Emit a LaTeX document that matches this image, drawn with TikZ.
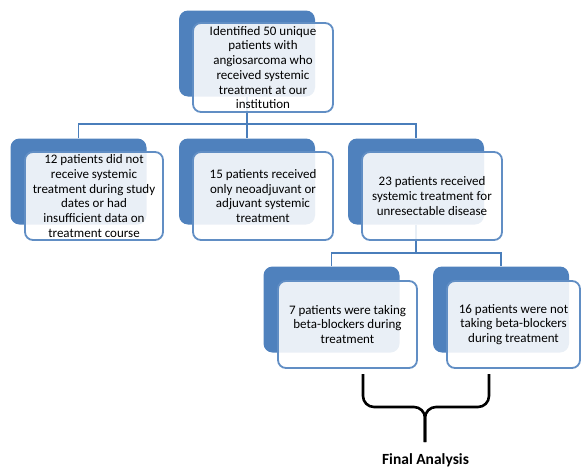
\documentclass[tikz,border=0pt]{standalone}
\usepackage{fontspec}
\setmainfont{Carlito}
\usepackage{xcolor}
\usepackage{tikz}
\usetikzlibrary{positioning, calc}
\definecolor{officeblue}{HTML}{4F81BD}
\definecolor{lineblue}{HTML}{4A7EBB}
\tikzset{
  backbox/.style  = {rectangle, fill=officeblue, rounded corners=9pt,
                     minimum width=136pt, minimum height=86pt, inner sep=0pt},
  frontbox/.style = {rectangle, draw=officeblue!90, line width=1.8pt, fill=white,
                     fill opacity=0.88, text opacity=1, rounded corners=8pt,
                     minimum width=139pt, minimum height=88pt, inner sep=1pt,
                     align=center, font=\fontsize{13}{14.7}\selectfont},
  link/.style     = {draw=lineblue, line width=1.8pt},
  bracket/.style  = {draw=black, line width=2.6pt, rounded corners=11pt},
}

\begin{document}
\begin{tikzpicture}[x=1pt, y=-1pt]
    \useasboundingbox (0,0) rectangle (582,469);

    %% Back boxes
    \node[backbox] (topB) at (247, 53.5) {};
    \node[backbox] (b1B) at ( 78.5, 181.5) {};
    \node[backbox] (b2B) at (247,   181.5) {};
    \node[backbox] (b3B) at (416,   181.5) {};
    \node[backbox] (b4B) at (331.5, 309.5) {};
    \node[backbox] (b5B) at (501,   309.5) {};

    %% Connectors (drawn under the front boxes)
    \coordinate (split1) at (247, 124);
    \coordinate (split2) at (416, 253);
    \draw[link] (topB.south) -- (b2B.north);
    \draw[link] (b1B.north) |- (b3B.north |- split1) -- (b3B.north);
    \draw[link] (b3B.south) -- (b3B.south |- split2);
    \draw[link] (b4B.north) |- (b5B.north |- split2) -- (b5B.north);

    %% Front boxes
    \node[frontbox, minimum width=140pt, minimum height=89pt] (top) at (263, 67.5)
      {Identified 50 unique\\patients with\\angiosarcoma who\\received systemic\\treatment at our\\institution};
    \node[frontbox, minimum width=138pt] (b1) at ( 94, 196)
      {12 patients did not\\receive systemic\\treatment during study\\dates or had\\insufficient data on\\treatment course};
    \node[frontbox, minimum width=140pt] (b2) at (263, 196)
      {15 patients received\\only neoadjuvant or\\adjuvant systemic\\treatment};
    \node[frontbox, minimum width=140pt] (b3) at (432, 196)
      {23 patients received\\systemic treatment for\\unresectable disease};
    \node[frontbox, minimum height=87pt] (b4) at (347.5, 324.5)
      {7 patients were taking\\beta-blockers during\\treatment};
    \node[frontbox, minimum width=133pt, minimum height=87pt] (b5) at (513.5, 324.5)
      {16 patients were not\\taking beta-blockers\\during treatment};

    %% Bracket to the final analysis
    \coordinate (brL) at (363, 374);
    \coordinate (brR) at (489, 374);
    \coordinate (brM) at (425, 407);
    \coordinate (brTip) at (425, 442);
    \draw[bracket] (brL) |- (brM) -- (brTip);
    \draw[bracket] (brR) |- (brM) -- (brTip);
    \node[font=\fontsize{15.5}{17}\selectfont\bfseries] (final) at (425.5, 460) {Final Analysis};

\end{tikzpicture}
\end{document}
